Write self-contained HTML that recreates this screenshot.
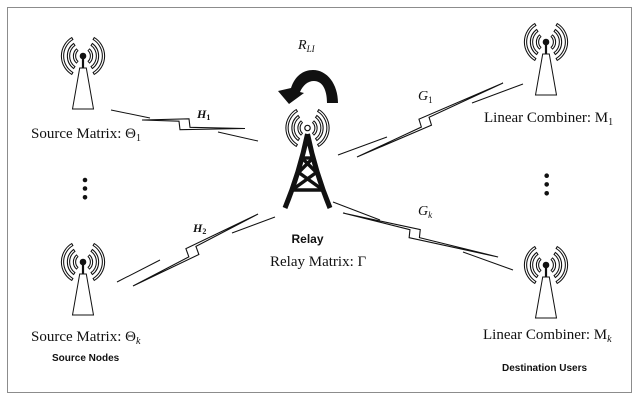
<!DOCTYPE html>
<html>
<head>
<meta charset="utf-8">
<style>
  html, body { margin: 0; padding: 0; background: #ffffff; }
  svg { display: block; }
  .serif { font-family: "Liberation Serif", "DejaVu Serif", serif; fill: #111; }
  .sans { font-family: "Liberation Sans", "DejaVu Sans", sans-serif; fill: #111; font-weight: bold; }
</style>
</head>
<body>
<svg width="639" height="400" viewBox="0 0 639 400" xmlns="http://www.w3.org/2000/svg">
  <defs>
    <g id="waves">
      <g fill="none" stroke="#111" stroke-width="3.3">
        <path d="M -5.46,-6.51 A 8.5 8.5 0 0 0 -5.46,6.51"/>
        <path d="M 5.46,-6.51 A 8.5 8.5 0 0 1 5.46,6.51"/>
        <path d="M -8.32,-11.88 A 14.5 14.5 0 0 0 -8.32,11.88"/>
        <path d="M 8.32,-11.88 A 14.5 14.5 0 0 1 8.32,11.88"/>
        <path d="M -10.25,-17.75 A 20.5 20.5 0 0 0 -10.25,17.75"/>
        <path d="M 10.25,-17.75 A 20.5 20.5 0 0 1 10.25,17.75"/>
      </g>
      <g fill="none" stroke="#fff" stroke-width="1.2">
        <path d="M -6.01,-6.01 A 8.5 8.5 0 0 0 -6.01,6.01"/>
        <path d="M 6.01,-6.01 A 8.5 8.5 0 0 1 6.01,6.01"/>
        <path d="M -9.12,-11.27 A 14.5 14.5 0 0 0 -9.12,11.27"/>
        <path d="M 9.12,-11.27 A 14.5 14.5 0 0 1 9.12,11.27"/>
        <path d="M -11.16,-17.19 A 20.5 20.5 0 0 0 -11.16,17.19"/>
        <path d="M 11.16,-17.19 A 20.5 20.5 0 0 1 11.16,17.19"/>
      </g>
    </g>
    <g id="ant">
      <use href="#waves"/>
      <line x1="0" y1="0" x2="0" y2="12" stroke="#111" stroke-width="2.2"/>
      <polygon points="-3.3,12 3.3,12 10.5,53 -10.5,53" fill="#fff" stroke="#111" stroke-width="1"/>
      <circle cx="0" cy="0" r="3.3" fill="#111"/>
    </g>
  </defs>

  <!-- border -->
  <rect x="7.5" y="7.5" width="624" height="385" fill="#fff" stroke="#8c8c8c" stroke-width="1"/>

  <!-- antennas -->
  <use href="#ant" x="83" y="56"/>
  <use href="#ant" x="83" y="262"/>
  <use href="#ant" x="546" y="42"/>
  <use href="#ant" x="546" y="265"/>

  <!-- relay waves -->
  <use href="#waves" x="307.5" y="128"/>
  <circle cx="307.5" cy="128" r="2.7" fill="#fff" stroke="#111" stroke-width="1.2"/>

  <!-- relay tower -->
  <g fill="none" stroke="#111" stroke-linecap="butt">
    <path d="M307.5,134 Q299.7,172 285,208" stroke-width="5"/>
    <path d="M307.5,134 Q315.3,172 330,208" stroke-width="5"/>
    <line x1="300" y1="158" x2="315" y2="158" stroke-width="3.4"/>
    <line x1="302" y1="158" x2="317" y2="173" stroke-width="3.4"/>
    <line x1="313" y1="158" x2="298" y2="173" stroke-width="3.4"/>
    <line x1="298" y1="172" x2="323" y2="190" stroke-width="3.4"/>
    <line x1="317" y1="172" x2="292" y2="190" stroke-width="3.4"/>
    <line x1="290" y1="190" x2="325" y2="190" stroke-width="3.4"/>
  </g>

  <!-- self-interference curved arrow -->
  <path d="M338,103 C338,84 327,70 313,70 C303,70 295,76 291,88 L278,91 L289,104 L304,93 L300,92 C303,85 308,81 314,81 C322,81 327,89 327,103 Z" fill="#111"/>

  <!-- links -->
  <g stroke="#111" stroke-width="1" fill="none">
    <line x1="111" y1="110" x2="150" y2="118"/>
    <line x1="218" y1="132" x2="258" y2="141"/>
    <line x1="338" y1="155" x2="387" y2="137"/>
    <line x1="472" y1="103" x2="523" y2="84"/>
    <line x1="117" y1="282" x2="160" y2="260"/>
    <line x1="232" y1="233" x2="275" y2="217"/>
    <line x1="333" y1="202" x2="380" y2="220"/>
    <line x1="463" y1="252" x2="513" y2="270"/>
  </g>
  <g fill="#fff" stroke="#111" stroke-width="1.1" stroke-linejoin="miter">
    <polygon transform="translate(142,120)" points="0,0 47,-1.2 48,7.3 103,8.5 38,9.7 37,1.2"/>
    <polygon transform="translate(357,157) rotate(-24)" points="0,0 81,1.2 82,-7 163.5,-8.2 72,-9.4 71,-1.2"/>
    <polygon transform="translate(133,286) rotate(-26.5)" points="0,0 73,1.2 74,-7.4 144,-8.6 64,-9.8 63,-1.2"/>
    <polygon transform="translate(343,213) rotate(13)" points="0,0 79,-1.2 80,6.8 161,8 70,9.2 69,1.2"/>
  </g>

  <!-- vertical ellipsis dots -->
  <g fill="#111">
    <circle cx="85" cy="180" r="2.3"/>
    <circle cx="85" cy="188.5" r="2.3"/>
    <circle cx="85" cy="197.3" r="2.3"/>
    <circle cx="546.7" cy="175.7" r="2.3"/>
    <circle cx="546.7" cy="184.4" r="2.3"/>
    <circle cx="546.7" cy="193.3" r="2.3"/>
  </g>

  <!-- labels -->
  <text class="serif" x="298" y="49" font-size="14" font-style="italic">R<tspan font-size="9" dy="3">LI</tspan></text>

  <text class="serif" x="197" y="118" font-size="12" font-style="italic" font-weight="bold">H<tspan font-size="8" dy="2" font-style="normal">1</tspan></text>
  <text class="serif" x="193" y="232" font-size="12" font-style="italic" font-weight="bold">H<tspan font-size="8" dy="2" font-style="normal">2</tspan></text>
  <text class="serif" x="418" y="100" font-size="14" font-style="italic">G<tspan font-size="9" dy="3" font-style="normal">1</tspan></text>
  <text class="serif" x="418" y="215" font-size="14" font-style="italic">G<tspan font-size="9" dy="3">k</tspan></text>

  <text class="serif" x="31" y="138" font-size="15">Source Matrix: Θ<tspan font-size="10" dy="3">1</tspan></text>
  <text class="serif" x="31" y="341" font-size="15">Source Matrix: Θ<tspan font-size="10" dy="3" font-style="italic">k</tspan></text>
  <text class="sans" x="52" y="361" font-size="10">Source Nodes</text>

  <text class="serif" x="484" y="122" font-size="15">Linear Combiner: M<tspan font-size="10" dy="3">1</tspan></text>
  <text class="serif" x="483" y="339" font-size="15">Linear Combiner: M<tspan font-size="10" dy="3" font-style="italic">k</tspan></text>
  <text class="sans" x="502" y="371" font-size="10">Destination Users</text>

  <text class="sans" x="307.5" y="243" font-size="12" text-anchor="middle">Relay</text>
  <text class="serif" x="270" y="266" font-size="15">Relay Matrix: Γ</text>
</svg>
</body>
</html>
